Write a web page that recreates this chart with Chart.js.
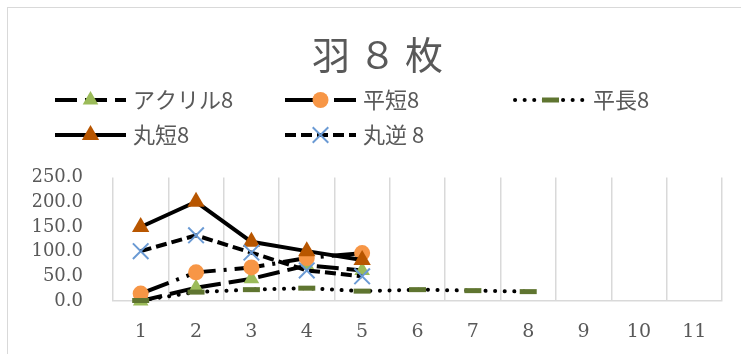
<!DOCTYPE html>
<html lang="ja">
<head>
<meta charset="UTF-8">
<title>羽８枚</title>
<script src="https://cdn.jsdelivr.net/npm/chart.js@4"></script>
<style>
  body { margin: 0; width: 741px; height: 354px; overflow: hidden; background: #fff; position: relative; }
  #frame { position: absolute; left: 7px; top: 7px; width: 800px; height: 400px; border: 1px solid #d9d9d9; }
  #wrap { position: absolute; left: 0; top: 0; width: 741px; height: 354px; }
</style>
</head>
<body>
<div id="frame"></div>
<div id="wrap"><canvas id="chart"></canvas></div>
<script>
const categories = ['1', '2', '3', '4', '5', '6', '7', '8', '9', '10', '11'];
const seriesNames = ['アクリル8', '平短8', '平長8', '丸短8', '丸逆 8'];
const acrylic8 = [0, 27, 45, 72, 62];
const hiraShort8 = [15, 58, 68, 87, 97];
const hiraLong8 = [1, 18, 23, 26, 20, 23, 21, 19];
const maruShort8 = [150, 201, 120, 101, 83];
const maruRev8 = [101, 133, 98, 62, 50];
const yTicks = { min: 0, max: 250, step: 50 };

const textColor = '#595959';

// legend laid out in fixed columns, each entry = line sample + marker + label
const gridLegend = {
  id: 'gridLegend',
  afterDraw(chart, args, opts) {
    const ctx = chart.ctx;
    chart.data.datasets.forEach((ds, i) => {
      const x = opts.left + (i % 3) * opts.colWidth;
      const y = opts.top + Math.floor(i / 3) * opts.rowHeight;
      ctx.save();
      ctx.lineWidth = ds.borderWidth;
      ctx.strokeStyle = ds.borderColor;
      ctx.lineCap = ds.borderCapStyle || 'butt';
      ctx.setLineDash(ds.borderDash || []);
      ctx.beginPath();
      ctx.moveTo(x, y);
      ctx.lineTo(x + opts.sample, y);
      ctx.stroke();
      ctx.setLineDash([]);
      ctx.lineCap = 'butt';
      ctx.fillStyle = ds.pointBackgroundColor;
      ctx.strokeStyle = ds.pointBorderColor;
      ctx.lineWidth = ds.pointBorderWidth || 1;
      Chart.helpers.drawPoint(ctx, {
        pointStyle: ds.pointStyle,
        radius: ds.pointRadius,
        rotation: 0,
        borderWidth: ds.pointBorderWidth
      }, x + opts.sample / 2, y);
      ctx.fillStyle = textColor;
      ctx.font = opts.font;
      ctx.textBaseline = 'middle';
      ctx.fillText(ds.label, x + opts.sample + 7, y);
      ctx.restore();
    });
  }
};

const base = { fill: false, tension: 0, borderColor: '#000', borderWidth: 4, clip: false };

new Chart(document.getElementById('chart'), {
  type: 'line',
  data: {
    labels: categories,
    datasets: [
      { ...base, label: seriesNames[0], data: acrylic8, order: 5,
        borderDash: [22, 8],
        pointStyle: 'triangle', pointRadius: 9, pointBorderWidth: 0,
        pointBackgroundColor: '#9bbb59', pointBorderColor: '#9bbb59' },
      { ...base, label: seriesNames[1], data: hiraShort8, order: 4,
        borderDash: [30, 8, 3, 8],
        pointStyle: 'circle', pointRadius: 8, pointBorderWidth: 0,
        pointBackgroundColor: '#f79646', pointBorderColor: '#f79646' },
      { ...base, label: seriesNames[2], data: hiraLong8, order: 3,
        borderDash: [0.1, 9.5], borderCapStyle: 'round',
        pointStyle: 'line', pointRadius: 8.5, pointBorderWidth: 5,
        pointBackgroundColor: '#5f7530', pointBorderColor: '#5f7530' },
      { ...base, label: seriesNames[3], data: maruShort8, order: 2,
        pointStyle: 'triangle', pointRadius: 10, pointBorderWidth: 0,
        pointBackgroundColor: '#b85600', pointBorderColor: '#b85600' },
      { ...base, label: seriesNames[4], data: maruRev8, order: 1,
        borderDash: [11, 5],
        pointStyle: 'crossRot', pointRadius: 11, pointBorderWidth: 2,
        pointBackgroundColor: '#6a9ad4', pointBorderColor: '#6a9ad4' }
    ]
  },
  options: {
    responsive: true,
    maintainAspectRatio: false,
    animation: false,
    events: [],
    // side padding keeps the title centred on the outer frame
    layout: { padding: { left: 33, right: 19, top: 0, bottom: 0 } },
    plugins: {
      legend: { display: false },
      tooltip: { enabled: false },
      title: {
        display: true,
        text: '羽 ８ 枚',
        color: textColor,
        font: { family: "'Noto Sans CJK JP'", size: 38, weight: 'normal' },
        padding: { top: 32, bottom: 100 }
      },
      gridLegend: {
        left: 55, top: 100, colWidth: 230, rowHeight: 35, sample: 71,
        font: "22px 'Noto Sans CJK JP'"
      }
    },
    scales: {
      x: {
        offset: true,
        grid: { offset: true, color: '#d9d9d9', lineWidth: 1.5, drawTicks: false },
        border: { color: '#d9d9d9', width: 1.5 },
        ticks: {
          color: textColor, padding: 20, maxRotation: 0, autoSkip: false,
          font: { family: "'DejaVu Serif'", size: 19 }
        },
        afterFit: scale => { scale.height = 53; }
      },
      y: {
        min: yTicks.min,
        max: yTicks.max,
        grid: { display: false, drawTicks: false },
        border: { display: false },
        ticks: {
          stepSize: yTicks.step, autoSkip: false,
          color: textColor, padding: 30,
          font: { family: "'DejaVu Serif'", size: 18 },
          callback: v => v.toFixed(1)
        },
        afterFit: scale => { scale.width = 80; }
      }
    }
  },
  plugins: [gridLegend]
});
</script>
</body>
</html>
